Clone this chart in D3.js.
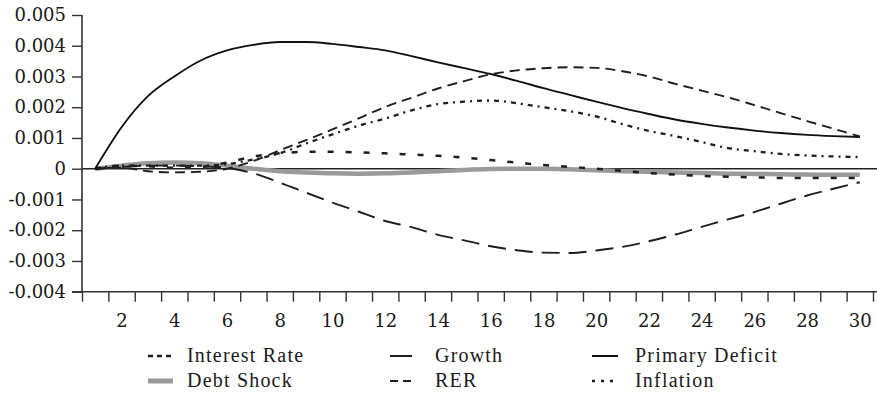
<!DOCTYPE html>
<html>
<head>
<meta charset="utf-8">
<script src="https://cdn.jsdelivr.net/npm/d3@7"></script>
<style>
  body { margin: 0; background: #fff; }
  svg { display: block; }
</style>
</head>
<body>
<div id="chart"></div>
<script>
// periods 1..30
var periods = d3.range(1, 31);

var primaryDeficit = [0, 0.00135, 0.00236, 0.0030, 0.00352, 0.00385, 0.00403, 0.00412, 0.00412, 0.00406,
  0.00396, 0.00385, 0.00366, 0.00346, 0.00327, 0.00308, 0.00286, 0.00262, 0.00240, 0.00218,
  0.00197, 0.00178, 0.0016, 0.00146, 0.00134, 0.00124, 0.00116, 0.0011, 0.00106, 0.00103];

var rer = [0, 0.00003, -0.00008, -0.00012, -0.0001, 0.0, 0.00025, 0.0006, 0.00093, 0.00128,
  0.00164, 0.00201, 0.00231, 0.00261, 0.00285, 0.00307, 0.0032, 0.00327, 0.0033, 0.00328,
  0.00317, 0.003, 0.00276, 0.00254, 0.00232, 0.00207, 0.00181, 0.00155, 0.0013, 0.00105];

var growth = [0, 0.00005, 0.0001, 0.0001, 0.00008, 0.00003, -0.00015, -0.00045, -0.00078, -0.0011,
  -0.0014, -0.0017, -0.0019, -0.00215, -0.00233, -0.00252, -0.00265, -0.00273, -0.00274, -0.00266,
  -0.00254, -0.00236, -0.00214, -0.00189, -0.00165, -0.00141, -0.00114, -0.00087, -0.00065, -0.00044];

var interestRate = [0, 0.0001, 0.00008, 0.00003, 0.00006, 0.0002, 0.0004, 0.0005, 0.00055, 0.00055,
  0.00053, 0.0005, 0.00046, 0.00042, 0.00036, 0.00028, 0.0002, 0.00012, 0.00006, 0,
  -0.00007, -0.00014, -0.00019, -0.00023, -0.00026, -0.00028, -0.0003, -0.0003, -0.0003, -0.0003];

var inflation = [0, 0.0001, 0.0001, 0.0001, 0.0001, 0.00015, 0.0003, 0.0005, 0.00082, 0.00112,
  0.0014, 0.00163, 0.0019, 0.0021, 0.00218, 0.00222, 0.00213, 0.002, 0.00187, 0.0017,
  0.00145, 0.00123, 0.00106, 0.00087, 0.00067, 0.00057, 0.00048, 0.00043, 0.0004, 0.00038];

var debtShock = [0, 0.0001, 0.00018, 0.0002, 0.00018, 0.0001, 0, -0.00008, -0.00012, -0.00015,
  -0.00016, -0.00015, -0.00012, -0.00008, -0.00004, -0.00001, 0, 0, -0.00002, -0.00005,
  -0.00008, -0.0001, -0.00012, -0.00014, -0.00016, -0.00017, -0.00018, -0.00019, -0.0002, -0.0002];

var yTicks = [-0.004, -0.003, -0.002, -0.001, 0, 0.001, 0.002, 0.003, 0.004, 0.005];
var xLabels = [2, 4, 6, 8, 10, 12, 14, 16, 18, 20, 22, 24, 26, 28, 30];

// series in drawing order
var series = [
  { name: "Debt Shock", values: debtShock, color: "#9a9a9a", width: 4.5, dash: null, legendDash: null },
  { name: "Growth", values: growth, color: "#1e1e1e", width: 1.9, dash: "18,9", legendDash: null },
  { name: "Interest Rate", values: interestRate, color: "#1e1e1e", width: 2.5, dash: "6,12", legendDash: "5,4" },
  { name: "Inflation", values: inflation, color: "#1e1e1e", width: 2.3, dash: "5,5,2,5", legendDash: "3,6" },
  { name: "RER", values: rer, color: "#1e1e1e", width: 1.9, dash: "10,6", legendDash: "8,5" },
  { name: "Primary Deficit", values: primaryDeficit, color: "#111", width: 1.9, dash: null, legendDash: null }
];

// legend layout: column order as in the picture
var legendItems = ["Interest Rate", "Growth", "Primary Deficit", "Debt Shock", "RER", "Inflation"];

const W = 877, H = 393;
const svg = d3.select("#chart").append("svg").attr("width", W).attr("height", H);

const mLeft = 82, mRight = 873, mTop = 15, mBottom = 291.7;

var x = d3.scaleLinear().domain([0.5, 30.5]).range([mLeft, mRight]);
var y = d3.scaleLinear().domain([-0.004, 0.005]).range([mBottom, mTop]);

// zero line across the plot
svg.append("line")
  .attr("x1", mLeft).attr("x2", W)
  .attr("y1", y(0)).attr("y2", y(0))
  .attr("stroke", "#222").attr("stroke-width", 1.4);

// lines
var line = d3.line()
  .x((d, i) => x(periods[i]))
  .y(d => y(d))
  .curve(d3.curveMonotoneX);

series.forEach(function(s) {
  svg.append("path")
    .datum(s.values)
    .attr("d", line)
    .attr("fill", "none")
    .attr("stroke", s.color)
    .attr("stroke-width", s.width)
    .attr("stroke-dasharray", s.dash)
    .attr("stroke-linecap", "butt");
});

// y axis
const yAxis = d3.axisLeft(y)
  .tickValues(yTicks)
  .tickSize(10)
  .tickPadding(6)
  .tickFormat(d => d === 0 ? "0" : d.toFixed(3));

const yG = svg.append("g").attr("transform", `translate(${mLeft},0)`).call(yAxis);

// x axis ticks at period boundaries
const xAxisTicks = d3.axisBottom(x)
  .tickValues(d3.range(0.5, 31, 1))
  .tickSize(10)
  .tickFormat("");
const xG = svg.append("g").attr("transform", `translate(0,${mBottom})`).call(xAxisTicks);

// x labels on even periods
const xAxisLabels = d3.axisBottom(x)
  .tickValues(xLabels)
  .tickSize(0)
  .tickPadding(23)
  .tickFormat(d3.format("d"));
const xL = svg.append("g").attr("transform", `translate(0,${mBottom})`).call(xAxisLabels);

[yG, xG, xL].forEach(function(g) {
  g.attr("font-family", "'DejaVu Serif', serif").attr("font-size", 18);
  g.select(".domain").remove();
  g.selectAll("line").attr("stroke", "#333").attr("stroke-width", 1.4);
  g.selectAll("text").attr("fill", "#1a1a1a");
});

// axis lines
svg.append("line")
  .attr("x1", mLeft).attr("x2", mLeft)
  .attr("y1", mTop).attr("y2", mBottom)
  .attr("stroke", "#333").attr("stroke-width", 1.6);
svg.append("line")
  .attr("x1", mLeft - 10).attr("x2", W)
  .attr("y1", mBottom).attr("y2", mBottom)
  .attr("stroke", "#333").attr("stroke-width", 1.6);

// legend
var colSym = [148, 390, 592];
var colText = [187, 435, 635];
var rowBase = [362, 387];

legendItems.forEach(function(name, i) {
  var s = series.find(d => d.name === name);
  var col = i % 3, row = Math.floor(i / 3);
  var sy = rowBase[row] - 6;
  var symW = col === 2 ? 26 : (col === 1 ? 22 : 25);
  svg.append("line")
    .attr("x1", colSym[col]).attr("x2", colSym[col] + symW)
    .attr("y1", sy).attr("y2", sy)
    .attr("stroke", s.color)
    .attr("stroke-width", s.name === "Debt Shock" ? 5 : (s.name === "Inflation" || s.name === "Interest Rate" ? 2.4 : 2))
    .attr("stroke-dasharray", s.legendDash);
  svg.append("text")
    .attr("x", colText[col]).attr("y", rowBase[row])
    .attr("fill", "#1a1a1a")
    .attr("font-family", "'Liberation Serif', serif")
    .attr("font-size", 20)
    .style("letter-spacing", "1.2px")
    .text(name);
});
</script>
</body>
</html>
